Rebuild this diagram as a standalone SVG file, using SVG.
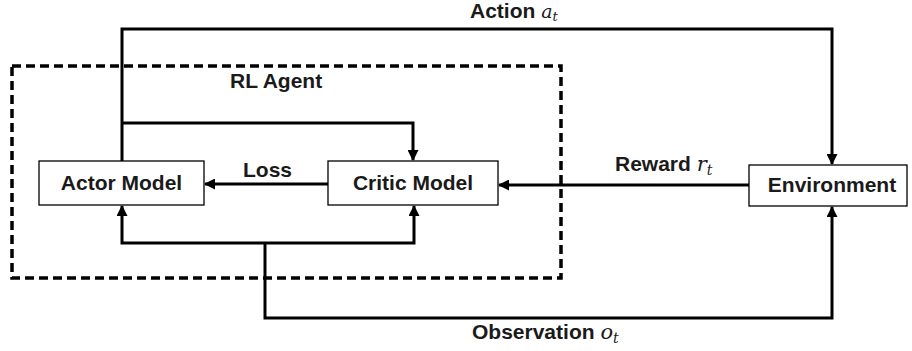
<svg xmlns="http://www.w3.org/2000/svg" width="912" height="351" viewBox="0 0 912 351">
<style>
.box{fill:#fff;stroke:#000;stroke-width:1.3}
.lbl{font-family:"Liberation Sans",Arial,sans-serif;font-weight:bold;font-size:21px;fill:#1a1a1a}
.edge{fill:none;stroke:#000;stroke-width:3}
.dash{fill:none;stroke:#000;stroke-width:3.5;stroke-dasharray:9 5}
.m{font-family:"DejaVu Serif","Liberation Serif",serif;font-style:italic;font-weight:normal}
</style>
<defs>
<marker id="ah" markerUnits="userSpaceOnUse" markerWidth="11" markerHeight="11" refX="10" refY="5.5" orient="auto">
<path d="M0,0 L11,5.5 L0,11 z" fill="#000"/>
</marker>
</defs>
<rect id="rl-agent-frame" class="dash" x="12" y="66" width="549" height="212"/>
<text class="lbl" x="230" y="88" font-size="19">RL Agent</text>
<g id="connectors">
<path class="edge" d="M122,161 V29 H832 V164" marker-end="url(#ah)"/>
<path class="edge" d="M122,123 H413 V160" marker-end="url(#ah)"/>
<path class="edge" d="M328,184 H205" marker-end="url(#ah)"/>
<path class="edge" d="M749,185 H499" marker-end="url(#ah)"/>
<path class="edge" d="M265,243 H122 V206" marker-end="url(#ah)"/>
<path class="edge" d="M265,243 H414 V206" marker-end="url(#ah)"/>
<path class="edge" d="M265,243 V318 H832 V207" marker-end="url(#ah)"/>
<text class="lbl" x="243" y="177" font-size="19">Loss</text>
<text class="lbl" x="470" y="18" font-size="19">Action <tspan class="m" font-size="19">a</tspan><tspan class="m" font-size="13" dy="3">t</tspan></text>
<text class="lbl" x="615" y="171" font-size="19">Reward <tspan class="m" font-size="21">r</tspan><tspan class="m" font-size="14" dy="4">t</tspan></text>
<text class="lbl" x="472" y="339" font-size="19">Observation <tspan class="m" font-size="21">o</tspan><tspan class="m" font-size="14" dy="4">t</tspan></text>
</g>
<g id="actor-model">
<rect class="box" x="39" y="161" width="165" height="44"/>
<text class="lbl" x="121.5" y="190" text-anchor="middle">Actor Model</text>
</g>
<g id="critic-model">
<rect class="box" x="328" y="161" width="170" height="44"/>
<text class="lbl" x="413" y="190" text-anchor="middle">Critic Model</text>
</g>
<g id="environment">
<rect class="box" x="749" y="165" width="158" height="41"/>
<text class="lbl" x="832" y="192" text-anchor="middle">Environment</text>
</g>
</svg>
